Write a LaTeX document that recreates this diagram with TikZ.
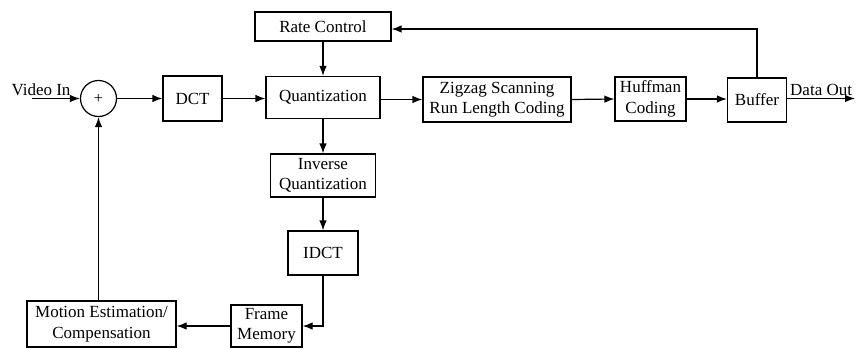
\documentclass[tikz,border=0pt]{standalone}
\usepackage{fontspec}
\setmainfont{Liberation Serif}
\usetikzlibrary{arrows.meta}
\begin{document}
\begin{tikzpicture}[x=1pt,y=-1pt,
  box/.style={draw,line width=1.2pt,inner sep=0pt,align=center,font=\fontsize{17}{20.5}\selectfont},
  lbl/.style={inner sep=1pt,font=\fontsize{17}{20.5}\selectfont},
  conn/.style={line width=1.2pt,-{Latex[length=10pt,width=7.5pt]}}]
\useasboundingbox (0,0) rectangle (856,348);
\node[draw,circle,line width=1.2pt,minimum size=36pt,inner sep=0pt,font=\fontsize{16}{18}\selectfont] (s) at (98.5,98.5) {+};
\node[box,minimum width=59pt,minimum height=45pt] (dct) at (192.5,98.5) {DCT};
\node[box,minimum width=114pt,minimum height=42pt] (q) at (323,97.5) {Quantization};
\node[box,minimum width=136pt,minimum height=29pt] (rc) at (323,26.5) {Rate Control};
\node[box,minimum width=148pt,minimum height=45pt] (zz) at (497,99.5) {Zigzag Scanning\\Run Length Coding};
\node[box,minimum width=71pt,minimum height=44pt] (hc) at (650.5,99) {Huffman\\Coding};
\node[box,minimum width=59pt,minimum height=44pt] (buf) at (757,100) {Buffer};
\node[box,minimum width=105pt,minimum height=43pt] (iq) at (323,175.5) {Inverse\\Quantization};
\node[box,minimum width=70pt,minimum height=44pt] (idct) at (323,253) {IDCT};
\node[box,minimum width=71pt,minimum height=42pt] (fm) at (266.5,326) {Frame\\Memory};
\node[box,minimum width=149pt,minimum height=46pt] (me) at (101.5,324) {Motion Estimation/\\Compensation};
\coordinate (vin) at (32,98.5);
\coordinate (dout) at (855,98.5);
\coordinate (fb) at (757,29);
\coordinate (lp) at (323,326);
\node[lbl,anchor=south] (vinl) at (41,97) {Video In};
\node[lbl,anchor=south west] (doutl) at (789,97) {Data Out};
\draw[conn] (vin) -- (s.west);
\draw[conn] (s.east) -- (dct.west);
\draw[conn] (dct.east) -- (dct.east -| q.west);
\draw[conn] (q.east |- zz.west) -- (zz.west);
\draw[conn] (zz.east) -- (hc.west);
\draw[conn] (hc.east) -- (hc.east -| buf.west);
\draw[conn] (buf.east |- dout) -- (dout);
\draw[conn] (buf.north) -- (fb) -- (fb -| rc.east);
\draw[conn] (rc.south) -- (q.north);
\draw[conn] (q.south) -- (iq.north);
\draw[conn] (iq.south) -- (idct.north);
\draw[conn] (idct.south) -- (lp) -- (fm.east);
\draw[conn] (fm.west) -- (fm.west -| me.east);
\draw[conn] (s.south |- me.north) -- (s.south);
\end{tikzpicture}
\end{document}
